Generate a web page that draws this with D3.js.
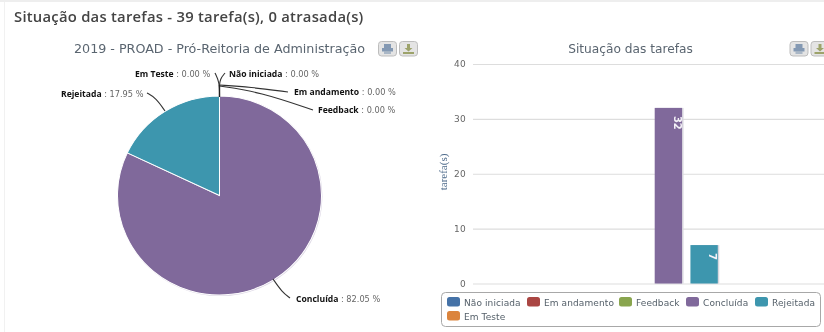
<!DOCTYPE html>
<html><head><meta charset="utf-8">
<script src="https://cdnjs.cloudflare.com/ajax/libs/d3/7.8.5/d3.min.js"></script>
<style>
html,body{margin:0;padding:0;background:#fff;overflow:hidden}
svg{display:block;filter:blur(.45px)}
text{font-family:"DejaVu Sans",sans-serif}
</style></head><body>
<svg id="c" width="824" height="332"></svg>
<script>
const heading = "Situação das tarefas - 39 tarefa(s), 0 atrasada(s)";
const pieTitle = "2019 - PROAD - Pró-Reitoria de Administração";
const barTitle = "Situação das tarefas";
const yAxisTitle = "tarefa(s)";
const categories = ["Não iniciada","Em andamento","Feedback","Concluída","Rejeitada","Em Teste"];
const counts = [0,0,0,32,7,0];
const percents = [0,0,0,82.05,17.95,0];
const colors = ["#4572A7","#AA4643","#89A54E","#80699B","#3D96AE","#DB843D"];
const yTicks = [0,10,20,30,40];

const svg = d3.select("#c");
svg.append("rect").attr("x",0).attr("y",0).attr("width",824).attr("height",2).attr("fill","#eeeeee");
svg.append("rect").attr("x",4).attr("y",2).attr("width",1).attr("height",330).attr("fill","#f1f1f1");
svg.append("text").attr("x",14).attr("y",22).attr("font-size",14.8).attr("font-weight",600)
  .attr("fill","#444").attr("style",'font-family:"Open Sans";letter-spacing:.25px').text(heading);

function title(x,y,t,fs){svg.append("text").attr("x",x).attr("y",y).attr("text-anchor","middle")
  .attr("font-size",fs).attr("fill","#5a6570").text(t);}
title(219.5,53,pieTitle,12.7);
title(630.5,53,barTitle,12.2);

function btn(x,y,col,kind){
  const g=svg.append("g").attr("transform",`translate(${x},${y})`);
  g.append("rect").attr("width",18).attr("height",14.5).attr("rx",3).attr("fill","#e4e4e4").attr("stroke","#bdbdbd");
  if(kind==="print"){
    g.append("rect").attr("x",5.5).attr("y",2.5).attr("width",7).attr("height",4).attr("fill",col);
    g.append("rect").attr("x",3.5).attr("y",6.5).attr("width",11).attr("height",3.5).attr("fill",col);
    g.append("rect").attr("x",5.5).attr("y",10).attr("width",7).attr("height",2.5).attr("fill",col).attr("opacity",.6);
  } else {
    g.append("path").attr("d","M7.5 2.5h3v4h2.5l-4 3.5-4-3.5h2.5z").attr("fill",col);
    g.append("rect").attr("x",3.5).attr("y",10.5).attr("width",11).attr("height",2).attr("fill",col);
  }
}
btn(378.5,41.5,"#8499b3","print"); btn(399.5,41.5,"#9da36b","down");
btn(790,41.5,"#8499b3","print"); btn(811,41.5,"#9da36b","down");

/* pie */
const cx=219.5, cy=195.5, r=100.5;
const pieG = svg.append("g").attr("transform",`translate(${cx},${cy}) scale(1.015,.99)`);
const pieGen = d3.pie().sort(null).value(d=>d);
const arcs = pieGen(percents);
const arc = d3.arc().innerRadius(0).outerRadius(r);
pieG.append("circle").attr("cx",.6).attr("cy",.8).attr("r",r+.3).attr("fill","#dcd6e4");
pieG.selectAll("path").data(arcs).join("path").attr("d",arc)
  .attr("fill",(d,i)=>colors[i]).attr("stroke","#fff").attr("stroke-width",1);

/* labels: anchor positions for label text, connector bends */
const labelSpec = {
 "Não iniciada":{x:229,y:77,path:[[219.5,86],[220,79],[225,73]]},
 "Em andamento":{x:294,y:95,path:[[219.5,85],[250,87],[288,92]]},
 "Feedback":{x:318,y:113,path:[[219.5,86],[260,92],[313,110]]},
 "Concluída":{x:296,y:302,path:[[273,279],[282,292],[290,298]]},
 "Rejeitada":{x:61,y:97,path:[[165,111],[156,98],[147,93]]},
 "Em Teste":{x:135,y:77,path:[[219.5,97],[219.5,82],[215,73]]}
};
categories.forEach((c,i)=>{
  const s=labelSpec[c];
  svg.append("path").attr("d",d3.line().curve(d3.curveBasis)(s.path)).attr("fill","none").attr("stroke","#333").attr("stroke-width",1.1);
  const t=svg.append("text").attr("x",s.x).attr("y",s.y).attr("font-size",8.2).attr("fill","#666");
  t.append("tspan").attr("font-size",8.6).attr("font-weight",700).attr("fill","#111").attr("style","font-family:'Open Sans'").text(c);
  t.append("tspan").text(" : "+percents[i].toFixed(2)+" %");
});
svg.append("line").attr("x1",219.5).attr("x2",219.5).attr("y1",85).attr("y2",97).attr("stroke","#222").attr("stroke-width",1.4);

/* bars */
const y = d3.scaleLinear().domain([0,40]).range([283.5,64]);
const x0 = d3.scaleBand().domain(["Situação"]).range([473,828]).paddingInner(.2).paddingOuter(.1);
const mid = x0("Situação")+x0.bandwidth()/2;
const x1 = d3.scaleBand().domain(categories).range([mid-103,mid+103]).paddingInner(.235);
const yAxis = d3.axisLeft(y).tickValues(yTicks).tickSize(-360).tickPadding(7);
const ag = svg.append("g").attr("transform","translate(473,0)").call(yAxis);
ag.select(".domain").remove();
ag.selectAll("line").attr("stroke","#dddddd").attr("stroke-width",1.2);
ag.selectAll("text").attr("font-size",9).attr("fill","#666").attr("style","letter-spacing:.3px");
svg.append("text").attr("transform","translate(447,172) rotate(-90)").attr("text-anchor","middle")
  .attr("font-size",11).attr("fill","#4d6a8a").attr("style","font-family:'Liberation Serif'").text(yAxisTitle);
const bars = svg.append("g").selectAll("g").data(categories).join("g");
bars.append("rect").attr("x",d=>x1(d)+1.5).attr("y",(d,i)=>y(counts[i])).attr("width",x1.bandwidth())
  .attr("height",(d,i)=>y(0)-y(counts[i])).attr("fill","#d8d6de");
bars.append("rect").attr("x",d=>x1(d)).attr("y",(d,i)=>y(counts[i])).attr("width",x1.bandwidth())
  .attr("height",(d,i)=>y(0)-y(counts[i])).attr("fill",(d,i)=>colors[i]);
bars.filter((d,i)=>counts[i]>0).append("text")
  .attr("transform",d=>{const v=counts[categories.indexOf(d)];return `translate(${x1(d)+x1.bandwidth()-5},${y(v)+8}) rotate(90)`;})
  .attr("text-anchor","start").attr("font-size",10).attr("font-weight",700).attr("fill","#f4f2f8")
  .attr("dy","0.35em").text(d=>counts[categories.indexOf(d)]);

/* legend */
svg.append("rect").attr("x",441.5).attr("y",292.5).attr("width",379).attr("height",34).attr("rx",4)
  .attr("fill","#fff").attr("stroke","#a8a8a8");
const legendX=[447,527,619,686,755,447], legendY=[0,0,0,0,0,1];
categories.forEach((c,i)=>{
  const g=svg.append("g").attr("transform",`translate(${legendX[i]},${297+legendY[i]*14})`);
  g.append("rect").attr("width",13).attr("height",9.5).attr("rx",2.5).attr("fill",colors[i]);
  g.append("text").attr("x",17).attr("y",8.8).attr("font-size",9).attr("fill","#55606a").attr("style","letter-spacing:.1px").text(c);
});
</script></body></html>
